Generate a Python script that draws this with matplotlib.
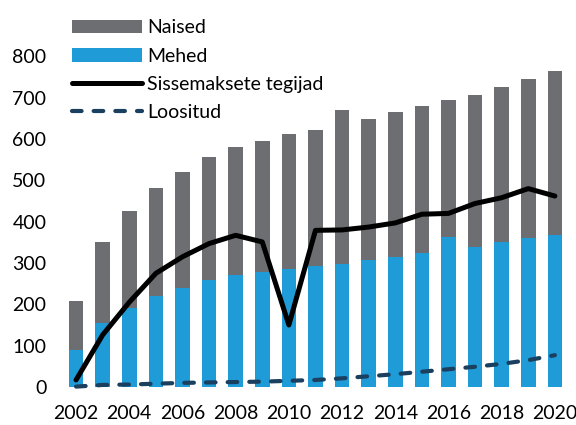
import matplotlib
matplotlib.use("Agg")
import matplotlib.pyplot as plt
import numpy as np

plt.rcParams["font.family"] = ["Lato", "DejaVu Sans"]

years = list(range(2002, 2021))
mehed = [89, 155, 192, 220, 240, 259, 271, 278, 285, 293, 297, 308, 315, 323, 362, 339, 352, 361, 367]
kokku = [208, 351, 426, 481, 520, 556, 580, 594, 611, 621, 669, 649, 665, 681, 694, 707, 726, 744, 764]
naised = [k - m for k, m in zip(kokku, mehed)]
sissemaksed = [17, 126, 205, 275, 315, 347, 367, 351, 150, 379, 380, 387, 397, 418, 420, 444, 458, 480, 462]
loositud = [1, 5, 6, 8, 10, 11, 12, 13, 15, 17, 21, 26, 31, 37, 43, 49, 56, 65, 77]

fig = plt.figure(figsize=(5.76, 4.25), dpi=100)
ax = fig.add_axes([0.0997, 0.0894, 0.896, 0.8753])

b1 = ax.bar(years, naised, bottom=mehed, width=0.55, color="#6d6e71", label="Naised")
b2 = ax.bar(years, mehed, width=0.55, color="#1f9bd7", label="Mehed")
l1, = ax.plot(years, sissemaksed, color="black", lw=3.6, solid_joinstyle="round",
              solid_capstyle="round", label="Sissemaksete tegijad", clip_on=False)
l2, = ax.plot(years, loositud, color="#1b3f5e", lw=3.0, dashes=(2.3, 2.9),
              dash_capstyle="round", label="Loositud", clip_on=False)

ax.set_xlim(2001.3, 2020.7)
ax.set_ylim(0, 900)
ax.set_xticks(range(2002, 2021, 2))
ax.set_yticks(range(0, 801, 100))
ax.tick_params(length=0, labelsize=14, colors="black")
ax.tick_params(axis="x", pad=13)
ax.tick_params(axis="y", pad=8)
for s in ax.spines.values():
    s.set_visible(False)

fig.legend([b1, b2, l1, l2], ["Naised", "Mehed", "Sissemaksete tegijad", "Loositud"],
           loc="upper left", bbox_to_anchor=(0.105, 0.982), frameon=False,
           fontsize=14, handlelength=3.6, labelspacing=0.58, handletextpad=0.25,
           borderaxespad=0.2)

fig.savefig("out.png", dpi=100)
